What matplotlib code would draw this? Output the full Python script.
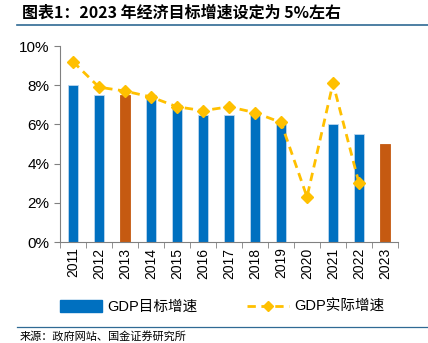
import matplotlib.pyplot as plt
from matplotlib.lines import Line2D
from matplotlib.patches import Patch
from matplotlib.ticker import FuncFormatter, MultipleLocator

plt.rcParams['font.family'] = ['Liberation Sans', 'Noto Sans CJK SC', 'DejaVu Sans']

# GDP growth: annual target vs actual (%)
years = ['2011', '2012', '2013', '2014', '2015', '2016', '2017',
         '2018', '2019', '2020', '2021', '2022', '2023']
target = [8.0, 7.5, 7.5, 7.5, 7.0, 6.5, 6.5, 6.5, 6.0, None, 6.0, 5.5, 5.0]
actual = [9.2, 7.9, 7.7, 7.4, 6.9, 6.7, 6.9, 6.6, 6.1, 2.3, 8.1, 3.0]
highlight = ['2013', '2023']

BLUE = '#0070C0'
ORANGE = '#C55A11'
YELLOW = '#FFC000'
RULE = '#2F6A94'

fig = plt.figure(figsize=(4.28, 3.43), dpi=100)
ax = fig.add_axes([60 / 428, 1 - 242 / 343, 338 / 428, 196 / 343])

x = list(range(len(years)))
for i, (yr, v) in enumerate(zip(years, target)):
    if v is None:
        continue
    ax.bar(i, v, width=0.36, color=ORANGE if yr in highlight else BLUE,
           edgecolor='#BDD7EE' if yr not in highlight else ORANGE,
           linewidth=0.6, zorder=2)

ax.plot(x[:len(actual)], actual, color=YELLOW, linestyle=(0, (3, 2)),
        linewidth=2, marker='D', markersize=6, zorder=3)

ax.set_xlim(-0.5, len(years) - 0.5)
ax.set_ylim(0, 10)
ax.yaxis.set_major_locator(MultipleLocator(2))
ax.yaxis.set_major_formatter(FuncFormatter(lambda v, _: f'{v:.0f}%'))
ax.set_xticks(x)
ax.set_xticklabels(years, rotation=90, fontsize=10)
ax.set_xticks([i - 0.5 for i in range(len(years) + 1)], minor=True)
ax.tick_params(axis='x', which='major', length=0, pad=4)
ax.tick_params(axis='x', which='minor', length=4, color='#808080', direction='out')
ax.tick_params(axis='y', length=4, color='#808080', labelsize=11)

for side in ('top', 'right'):
    ax.spines[side].set_visible(False)
ax.spines['left'].set_color('#808080')
ax.spines['bottom'].set_color('#808080')

handles = [
    Patch(facecolor=BLUE, edgecolor=BLUE),
    Line2D([0], [0], color=YELLOW, linestyle=(0, (3, 2)), linewidth=2,
           marker='D', markersize=5),
]
fig.legend(handles, ['GDP目标增速', 'GDP实际增速'], loc='center',
           bbox_to_anchor=(222 / 428, 1 - 307 / 343), ncol=2, frameon=False,
           fontsize=10.5, handlelength=2.9, handleheight=0.8,
           columnspacing=3.4, handletextpad=0.35)

# title and source rules
fig.text(22 / 428, 1 - 13 / 343, '图表1：2023 年经济目标增速设定为 5%左右',
         fontsize=11.5, fontweight='bold', style='italic', va='center',
         family=['Noto Sans CJK SC', 'DejaVu Sans'])
fig.add_artist(Line2D([17 / 428, 1], [1 - 24.5 / 343] * 2, color=RULE, linewidth=1.2))
fig.add_artist(Line2D([17 / 428, 1], [1 - 327 / 343] * 2, color=RULE, linewidth=0.9))
fig.text(20 / 428, 1 - 337.5 / 343, '来源：政府网站、国金证券研究所',
         fontsize=8, va='center', family=['Noto Sans CJK SC', 'DejaVu Sans'])

fig.savefig('out.png', dpi=100)
